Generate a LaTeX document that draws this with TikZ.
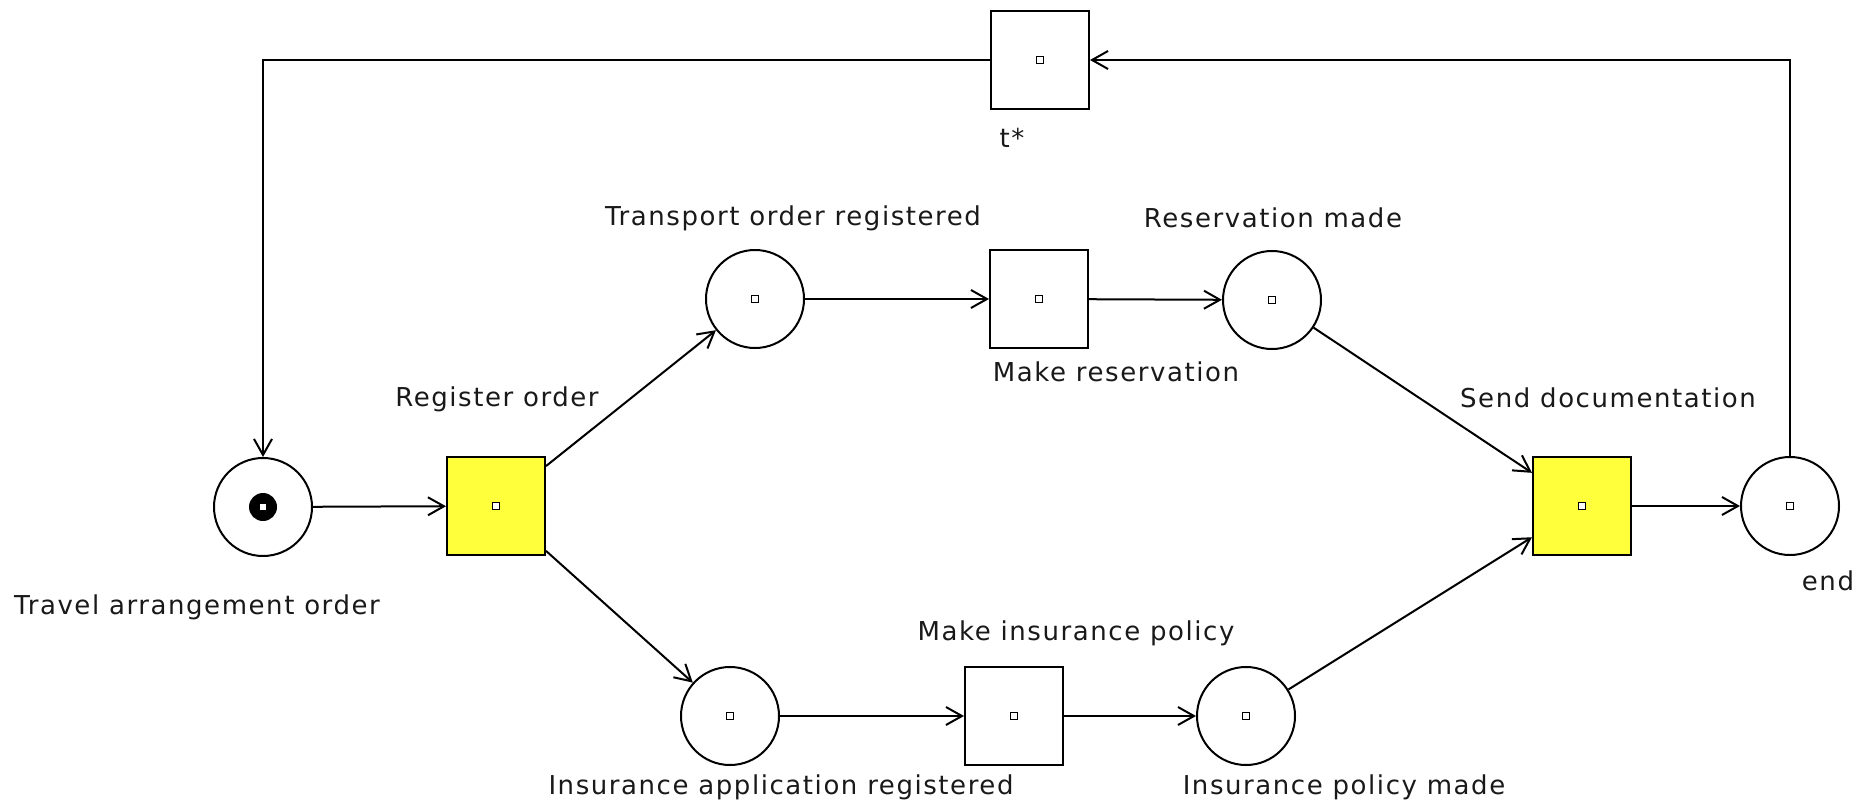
\documentclass[tikz,border=0pt]{standalone}
\usepackage{fontspec}
\setmainfont[LetterSpace=6]{DejaVu Sans}
\usepackage{xcolor}
\usetikzlibrary{shapes,arrows.meta}

\definecolor{petriyellow}{RGB}{255,255,60}
\definecolor{inkgray}{RGB}{25,25,25}

\begin{document}
\begin{tikzpicture}[x=0.5pt,y=-0.5pt]
\tikzstyle{place} = [circle, draw, line width=1pt, minimum size=49pt, inner sep=0pt]
\tikzstyle{transition} = [rectangle, draw, line width=1pt, minimum size=49pt, inner sep=0pt]
\tikzstyle{fired} = [transition, fill=petriyellow]
\tikzstyle{arc} = [draw, line width=1pt, -{Straight Barb[length=8pt,width=9pt]}]
\tikzstyle{lbl} = [inner sep=0pt, text=inkgray, font=\fontsize{13}{16}\selectfont]
\useasboundingbox (0,0) rectangle (1869,803);
% places
\node[place] (start) at (263,507) {};
\node[place] (transReg) at (755,299) {};
\node[place] (resMade) at (1272,300) {};
\node[place] (insReg) at (730,716) {};
\node[place] (polMade) at (1246,716) {};
\node[place] (finish) at (1790,506) {};
% transitions
\node[fired] (regOrder) at (496,506) {};
\node[transition] (makeRes) at (1039,299) {};
\node[transition] (makeIns) at (1014,716) {};
\node[fired] (sendDoc) at (1582,506) {};
\node[transition] (tstar) at (1040,60) {};
% token
\fill (start.center) circle (14);
% center marks
\foreach \n in {start,transReg,resMade,insReg,polMade,finish,regOrder,makeRes,makeIns,sendDoc,tstar}
	\draw[line width=0.6pt, fill=white] (\n.center) ++(-3.5,-3.5) rectangle ++(7,7);
% labels
\node[lbl] (lStart) at (197,607) {Travel arrangement order};
\node[lbl] (lRegOrder) at (497,399) {Register order};
\node[lbl] (lTransReg) at (793,218) {Transport order registered};
\node[lbl] (lMakeRes) at (1116,372) {Make reservation};
\node[lbl] (lResMade) at (1273,218) {Reservation made};
\node[lbl] (lSendDoc) at (1608,398) {Send documentation};
\node[lbl] (lFinish) at (1828,581) {end};
\node[lbl] (lMakeIns) at (1076,633) {Make insurance policy};
\node[lbl] (lInsReg) at (781,787) {Insurance application registered};
\node[lbl] (lPolMade) at (1344,787) {Insurance policy made};
\node[lbl] (lTstar) at (1012,138) {t*};
% arcs
\path[arc] (start) -- (regOrder);
\path[arc] (regOrder) -- (transReg);
\path[arc] (regOrder) -- (insReg);
\path[arc] (transReg) -- (makeRes);
\path[arc] (makeRes) -- (resMade);
\path[arc] (resMade) -- (sendDoc);
\path[arc] (insReg) -- (makeIns);
\path[arc] (makeIns) -- (polMade);
\path[arc] (polMade) -- (sendDoc);
\path[arc] (sendDoc) -- (finish);
\path[arc] (finish) |- (tstar);
\path[arc] (tstar) -| (start);
\end{tikzpicture}
\end{document}
